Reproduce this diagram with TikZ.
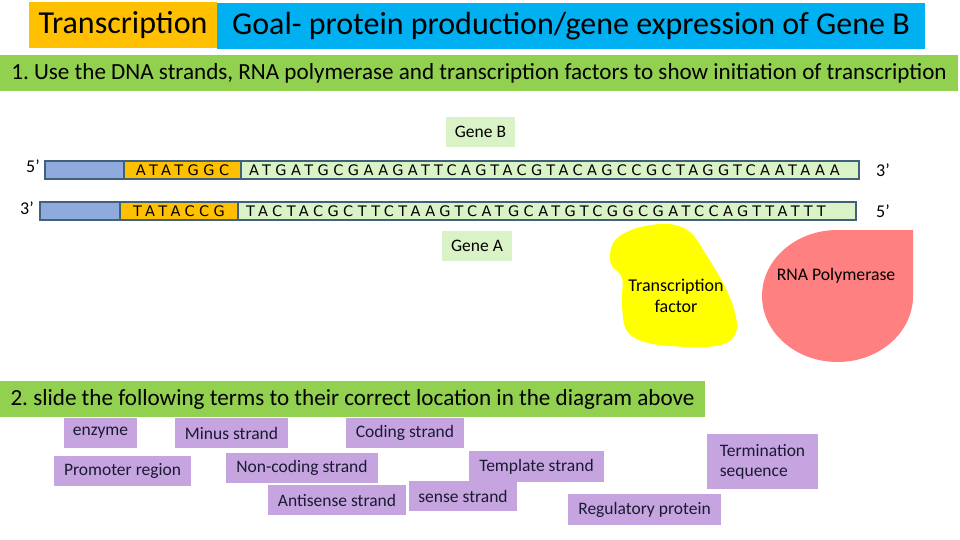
\documentclass[tikz,border=0pt]{standalone}
\usepackage{fontspec}
\setmainfont{Carlito}
\newfontfamily\seqfont[LetterSpace=30.5]{DejaVu Sans}
\definecolor{titleOrange}{HTML}{FFC000}
\definecolor{titleBlue}{HTML}{00B0F0}
\definecolor{barGreen}{HTML}{92D050}
\definecolor{dnaBlue}{HTML}{8FAADC}
\definecolor{seqGreen}{HTML}{D9F2C6}
\definecolor{segEdge}{HTML}{41607A}
\definecolor{tfYellow}{HTML}{FFFF00}
\definecolor{polPink}{HTML}{FF8080}
\definecolor{termPurple}{HTML}{C6A4E0}
\definecolor{termText}{HTML}{1A1A33}
\frenchspacing
\begin{document}
\begin{tikzpicture}[x=1pt, y=-1pt,
					box/.style={anchor=north west, inner sep=0pt, outer sep=0pt,
								text=black},
					headbox/.style={box, minimum height=46pt,
									font=\fontsize{32}{38}\selectfont},
					bar/.style={box, fill=barGreen, minimum height=36pt,
								font=\fontsize{23.1}{28}\selectfont},
					seg/.style={box, draw=segEdge, line width=2.5pt,
								minimum height=18pt,
								font=\fontsize{14.5}{16}\seqfont},
					seqseg/.style={seg, fill=seqGreen, inner xsep=8pt,
								   align=left},
					genebox/.style={box, fill=seqGreen, minimum width=69pt,
									minimum height=30pt,
									font=\fontsize{17.5}{20}\selectfont},
					prime/.style={font=\fontsize{18}{20}\selectfont},
					term/.style={box, fill=termPurple, minimum height=30pt,
								 text=termText,
								 font=\fontsize{17.5}{20}\selectfont}]
	\fill[white] (0,0) rectangle (960,540);
	\useasboundingbox (0,0) rectangle (960,540);

	\node[headbox, fill=titleOrange, minimum width=188pt] (title) at (29,2) {Transcription};
	\node[headbox, fill=titleBlue, minimum width=708pt] (goal) at (217,3) {Goal- protein production/gene expression of Gene B};
	\node[bar, minimum width=958pt] (task1) at (0,55) {1. Use the DNA strands, RNA polymerase and transcription factors to show initiation of transcription};

	\node[genebox] (geneB) at (446,117) {Gene B};

	\node[seg, fill=dnaBlue, minimum width=79pt] (top5) at (45,161) {};
	\node[seg, fill=titleOrange, minimum width=117pt] (topprom) at (124,161) {ATATGGC};
	\node[seqseg, text width=602pt] (topgene) at (241,161) {ATGATGCGAAGATTCAGTACGTACAGCCGCTAGGTCAATAAA};
	\node[seg, fill=dnaBlue, minimum width=80pt] (bot3) at (40,202) {};
	\node[seg, fill=titleOrange, minimum width=118pt] (botprom) at (120,202) {TATACCG};
	\node[seqseg, text width=602pt] (botgene) at (238,202) {TACTACGCT TCTA AGTCATGCATGTCGGCGATCCAGTTATTT};

	\node[prime] (p5top) at (33,166) {5’};
	\node[prime] (p3bot) at (27,208) {3’};
	\node[prime] (p3top) at (883,170) {3’};
	\node[prime] (p5bot) at (883,211) {5’};

	\node[genebox, minimum width=70pt] (geneA) at (442,231) {Gene A};

	\fill[tfYellow] plot[smooth cycle, tension=0.6] coordinates {
		(610,254) (616,239) (637,228) (668,224) (690,232) (707,256)
		(723,283) (733,306) (737,327) (731,340) (716,346) (687,347)
		(648,343) (627,331) (622,306) (622,278) (612,266)};
	\node[align=center, font=\fontsize{18}{21}\selectfont] (tf) at (676,296) {Transcription\\factor};

	\fill[polPink] (913,230) -- (913,296)
		arc[start angle=0, end angle=-270, x radius=75.5pt, y radius=66pt] -- cycle;
	\node[font=\fontsize{17.7}{20}\selectfont] (rnap) at (836,276) {RNA Polymerase};

	\node[bar, minimum width=705pt] (task2) at (0,381) {2. slide the following terms to their correct location in the diagram above};

	\node[term, minimum width=73pt] (enzyme) at (64,418) {enzyme};
	\node[term, minimum width=113pt] (minus) at (175,418) {Minus strand};
	\node[term, minimum width=118pt] (coding) at (346,418) {Coding strand};
	\node[term, minimum width=137pt] (promoter) at (54,456) {Promoter region};
	\node[term, minimum width=152pt] (noncoding) at (226,453) {Non-coding strand};
	\node[term, minimum width=138pt] (antisense) at (268,485) {Antisense strand};
	\node[term, minimum width=108pt] (sense) at (409,481) {sense strand};
	\node[term, minimum width=135pt, minimum height=31pt] (template) at (469,451) {Template strand};
	\node[term, minimum width=111pt, minimum height=55pt, align=left] (termseq) at (707,434) {Termination\\sequence};
	\node[term, minimum width=153pt, minimum height=31pt] (regulatory) at (568,494) {Regulatory protein};
\end{tikzpicture}
\end{document}
